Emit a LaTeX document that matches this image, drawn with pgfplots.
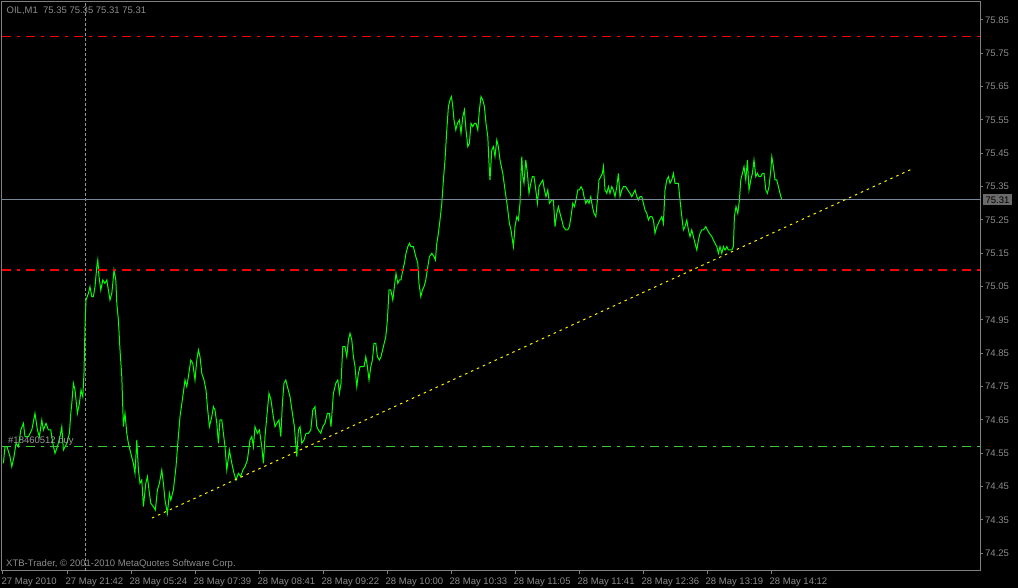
\documentclass[border=0pt]{standalone}
\usepackage{pgfplots}
\pgfplotsset{compat=1.18}
\usepackage{pgfplotstable}
\usepackage{fontspec}
\setmainfont{Liberation Sans}
\definecolor{framegray}{HTML}{808080}
\definecolor{labelgray}{HTML}{8C8C8C}
\definecolor{pricegray}{HTML}{778899}
\definecolor{limegreen}{HTML}{32CD32}
\definecolor{boxgray}{HTML}{6A6A6A}
\definecolor{chartgreen}{HTML}{00FF00}

% OIL M1 closes, x = bar number (2 px per bar on screen)
\pgfplotstableread{
bar price
0.2 74.52
1 74.57
2 74.57
3.5 74.54
4.4 74.51
5.5 74.54
6.5 74.58
7.7 74.57
8.9 74.62
10.2 74.64
11 74.60
12.7 74.60
14.4 74.62
16 74.67
17.2 74.62
18.2 74.60
19.4 74.65
20.2 74.62
21.5 74.64
22.7 74.62
23.9 74.62
24.9 74.58
26 74.55
27.2 74.57
28.5 74.60
29.4 74.63
30.2 74.56
31.9 74.58
33.2 74.61
33.9 74.67
34.4 74.70
35.2 74.76
36 74.74
37.2 74.67
38.2 74.70
39 74.74
39.9 74.72
40.5 74.79
41 74.93
41.5 75.01
42.7 75.03
43.5 75.05
44.4 75.02
45.2 75.02
46 75.05
46.9 75.11
47.4 75.13
48 75.08
48.9 75.04
49.9 75.07
50.9 75.06
51.9 75.07
52.7 75.04
53.5 75.01
54.4 75.03
54.9 75.06
55.5 75.10
56.4 75.07
56.9 75.00
57.7 74.95
58.5 74.86
59.4 74.78
60.2 74.63
61 74.67
61.9 74.61
62.7 74.58
63.9 74.55
65.2 74.52
66 74.49
66.9 74.59
67.7 74.50
68.5 74.46
69.4 74.47
70.2 74.39
71.4 74.46
72.2 74.48
73 74.44
73.9 74.40
75.2 74.39
76.2 74.38
77.2 74.44
78.2 74.46
79.4 74.50
80.2 74.46
81 74.41
82.2 74.37
83.2 74.43
83.9 74.41
85.2 74.44
86.5 74.51
87.4 74.58
88.5 74.66
89.9 74.72
91 74.77
91.9 74.75
92.7 74.78
93.9 74.83
94.9 74.82
96 74.77
96.9 74.83
97.7 74.86
98.5 74.84
99.4 74.79
100.5 74.77
101.5 74.74
102.2 74.69
103.2 74.63
104.4 74.66
105.2 74.69
106 74.68
106.9 74.64
107.7 74.58
108.5 74.65
109.4 74.65
110.2 74.61
111 74.57
111.9 74.50
113.2 74.56
114.4 74.52
115.5 74.49
116.5 74.47
117.7 74.49
118.9 74.48
119.9 74.50
121 74.51
122.2 74.53
123.5 74.59
124.4 74.60
125.2 74.57
126 74.63
127.2 74.61
128.2 74.62
129.4 74.57
130.2 74.52
131 74.60
131.9 74.66
133 74.73
134 74.71
134.9 74.67
136 74.63
136.9 74.64
138 74.65
138.9 74.60
139.7 74.70
140.5 74.76
141.4 74.77
142.2 74.75
143.5 74.72
144.7 74.67
145.7 74.63
146.9 74.54
147.7 74.62
148.5 74.63
149.4 74.58
150.5 74.59
151.5 74.61
152.7 74.61
153.9 74.62
154.9 74.68
156 74.69
156.9 74.63
157.7 74.62
158.9 74.61
159.9 74.63
161 74.64
162.2 74.67
163.2 74.67
164 74.63
165.2 74.73
166.4 74.76
167.4 74.77
168.2 74.73
169 74.76
169.9 74.87
171 74.87
171.9 74.84
172.7 74.89
173.5 74.91
174.4 74.89
175.2 74.84
176 74.81
176.9 74.75
177.7 74.79
178.5 74.81
179.7 74.81
180.5 74.81
181.4 74.84
182.2 74.81
183 74.77
183.9 74.81
184.7 74.83
185.5 74.88
186.4 74.88
187.2 74.84
188.2 74.83
189 74.84
190.2 74.87
191.4 74.90
192.2 74.95
193 75.04
193.9 75.04
194.9 75.01
195.7 75.05
196.5 75.09
197.4 75.06
198.2 75.07
199 75.07
199.9 75.10
200.7 75.12
201.5 75.15
202.4 75.17
203.2 75.18
204 75.17
205.2 75.17
206.4 75.14
207.4 75.12
208 75.06
208.9 75.02
209.7 75.04
210.5 75.05
211.4 75.07
212.4 75.11
213.2 75.14
214.4 75.15
215.5 75.14
216.2 75.13
216.9 75.18
217.7 75.21
218.5 75.25
219.4 75.30
220.2 75.37
221 75.43
221.9 75.52
222.7 75.59
223.5 75.61
224.2 75.62
224.9 75.59
225.5 75.55
226.4 75.52
227.2 75.54
228.2 75.55
229 75.51
229.9 75.56
230.7 75.58
231.5 75.52
232.4 75.47
233.2 75.48
234 75.54
234.9 75.53
235.7 75.54
236.5 75.54
237.4 75.52
238.2 75.58
239 75.62
239.9 75.61
240.7 75.59
241.5 75.54
242.4 75.50
243 75.42
243.5 75.37
244.4 75.46
245.2 75.47
246 75.44
246.9 75.49
247.7 75.47
248.5 75.43
249.9 75.39
251 75.34
252.2 75.29
253.2 75.24
254 75.22
254.7 75.19
255.2 75.17
256 75.23
256.9 75.26
257.7 75.25
258.5 75.30
259 75.39
259.4 75.44
259.9 75.38
260.5 75.36
261.4 75.43
262.2 75.39
263 75.33
263.9 75.36
264.7 75.38
265.5 75.38
266.4 75.34
267.2 75.30
268 75.35
268.9 75.36
269.9 75.37
270.7 75.34
271.5 75.32
272.4 75.34
273.2 75.30
274.4 75.31
275.2 75.31
276 75.23
276.9 75.27
277.7 75.29
278.5 75.27
279.4 75.25
280.2 75.23
281.4 75.22
282.4 75.22
283.2 75.23
284 75.26
284.9 75.30
285.7 75.29
286.5 75.31
287.4 75.34
288.2 75.34
289 75.35
289.9 75.34
290.5 75.32
291.4 75.30
292.2 75.31
293 75.30
293.9 75.32
294.7 75.29
295.5 75.27
296.4 75.26
297.2 75.31
298 75.37
298.9 75.38
299.7 75.39
300.2 75.41
301 75.34
301.9 75.33
302.7 75.35
303.5 75.33
304.4 75.35
305.2 75.34
306 75.32
306.9 75.35
307.7 75.39
308.5 75.32
309.4 75.34
310.2 75.35
311.4 75.35
312.4 75.34
313.5 75.33
314.4 75.32
315.2 75.33
316 75.34
316.9 75.32
317.7 75.31
318.5 75.32
319.4 75.32
320.2 75.30
321 75.28
321.9 75.27
322.7 75.25
323.5 75.26
324.4 75.26
325.2 75.25
326 75.21
326.9 75.23
327.7 75.24
328.5 75.25
329.4 75.26
330.2 75.24
331 75.34
331.9 75.37
332.7 75.38
333.5 75.36
334.4 75.37
335.2 75.39
336 75.36
336.9 75.36
337.7 75.36
338.5 75.31
339.4 75.26
340.2 75.22
341 75.23
341.9 75.25
342.7 75.22
343.5 75.20
344.4 75.22
345.2 75.20
346 75.18
346.9 75.16
347.7 75.19
348.5 75.21
349.4 75.22
350.2 75.22
351.4 75.23
352.2 75.22
353.2 75.21
354.4 75.20
355.2 75.19
356 75.18
356.9 75.17
357.7 75.15
358.5 75.17
359.4 75.15
360.2 75.17
361 75.16
361.9 75.17
362.7 75.16
363.5 75.16
364.4 75.16
365.2 75.17
365.7 75.26
366.5 75.29
367.4 75.27
368.2 75.31
368.9 75.37
369.7 75.39
370.5 75.41
371.4 75.37
372.2 75.43
373 75.34
373.9 75.37
374.7 75.39
375.5 75.43
376.4 75.38
377.2 75.39
378 75.38
378.9 75.38
379.7 75.39
380.5 75.39
381.4 75.34
382.2 75.33
383 75.35
383.9 75.40
384.4 75.44
385.2 75.41
386 75.37
386.9 75.37
387.7 75.35
388.5 75.33
389.4 75.31
}\oil

\begin{document}
\begin{tikzpicture}
\fill[black] (0pt,0pt) rectangle (1018pt,588pt);
\begin{axis}[at={(2pt,17pt)}, anchor=south west,
  width=978pt, height=569pt, scale only axis,
  xmin=-0.5, xmax=488.5, ymin=74.197, ymax=75.904,
  axis line style={framegray, line width=1pt},
  xtick pos=left, ytick pos=right, yticklabel pos=right,
  tick align=outside, major tick length=3pt,
  tick style={framegray, line width=1pt},
  ticklabel style={labelgray, font=\fontsize{9.5}{11}\selectfont},
  xtick={0,32,64,96,128,160,192,224,256,288,320,352,384},
  xticklabels={27 May 2010,27 May 21:42,28 May 05:24,28 May 07:39,28 May 08:41,
    28 May 09:22,28 May 10:00,28 May 10:33,28 May 11:05,28 May 11:41,
    28 May 12:36,28 May 13:19,28 May 14:12},
  xticklabel style={anchor=north west, inner sep=0pt, xshift=-1.5pt, yshift=-3.3pt},
  ytick={74.25,74.35,74.45,74.55,74.65,74.75,74.85,74.95,75.05,75.15,75.25,75.35,75.45,75.55,75.65,75.75,75.85},
  yticklabels={74.25,74.35,74.45,74.55,74.65,74.75,74.85,74.95,75.05,75.15,75.25,75.35,75.45,75.55,75.65,75.75,75.85},
  yticklabel style={anchor=west, inner sep=0pt, xshift=2pt},
]
% crosshair
\addplot[framegray!85, line width=1pt, dash pattern=on 3pt off 2pt] coordinates {(41.35,74.197) (41.35,75.904)};
% price line
\addplot[chartgreen, line width=1pt] table[x=bar, y=price] {\oil};
% horizontal levels
\addplot[red, line width=1pt, dash pattern=on 9pt off 6pt on 3pt off 6pt] coordinates {(-0.5,75.80) (488.5,75.80)};
\addplot[red, line width=2pt, dash pattern=on 9pt off 6pt on 3pt off 6pt] coordinates {(-0.5,75.10) (488.5,75.10)};
\addplot[limegreen, line width=1pt, dash pattern=on 9pt off 6pt on 3pt off 6pt] coordinates {(-0.5,74.57) (488.5,74.57)};
\addplot[pricegray, line width=1pt] coordinates {(-0.5,75.31) (488.5,75.31)};
% trend line
\addplot[yellow, line width=1pt, dash pattern=on 2.5pt off 4pt] coordinates {(74.5,74.356) (454.5,75.403)};
\end{axis}
\node[anchor=base west, inner sep=0pt, text=labelgray, font=\fontsize{9.5}{11}\selectfont] at (6.5pt,574pt) {OIL,M1\ \ 75.35 75.35 75.31 75.31};
\node[anchor=base west, inner sep=0pt, text=framegray!80, font=\fontsize{9.5}{11}\selectfont] at (8pt,144pt) {\#18460512 buy};
\node[anchor=base west, inner sep=0pt, text=labelgray, font=\fontsize{9.5}{11}\selectfont] at (6pt,21.5pt) {XTB-Trader, © 2001-2010 MetaQuotes Software Corp.};
\node[fill=boxgray, text=black, inner sep=0pt, minimum width=29pt, minimum height=11pt, font=\fontsize{9.5}{11}\selectfont] at (997.5pt,388pt) {75.31};
\end{tikzpicture}
\end{document}
